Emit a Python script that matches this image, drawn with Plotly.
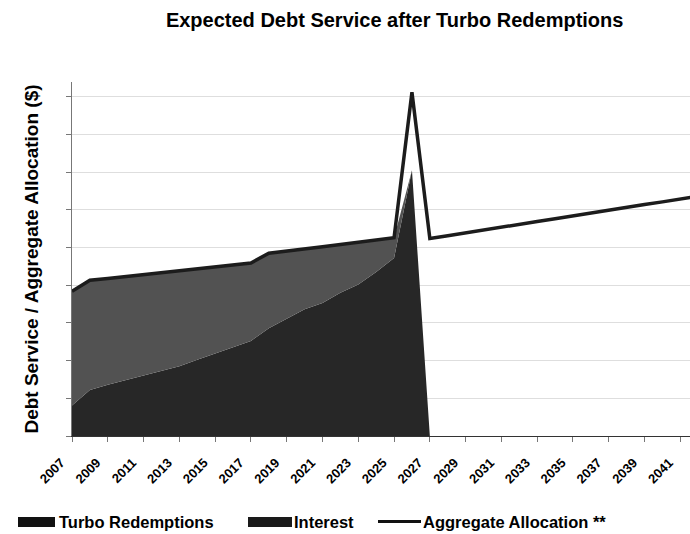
import plotly.graph_objects as go

years = list(range(2007, 2043))
tick_years = list(range(2007, 2042, 2))
tick_labels = [str(y) for y in tick_years]

turbo = [0.81, 1.22, 1.36, 1.48, 1.60, 1.71, 1.85, 2.02, 2.18, 2.35,
         2.52, 2.86, 3.12, 3.36, 3.53, 3.80, 4.02, 4.35, 4.72, 7.05,
         0.0]
interest = [3.03, 2.91, 2.82, 2.75, 2.68, 2.62, 2.53, 2.41, 2.30, 2.18,
            2.07, 1.99, 1.78, 1.60, 1.49, 1.28, 1.12, 0.85, 0.54, 0.0,
            0.0]
allocation = [3.84, 4.13, 4.18, 4.23, 4.28, 4.33, 4.38, 4.43, 4.48, 4.53,
              4.59, 4.85, 4.90, 4.96, 5.02, 5.08, 5.14, 5.20, 5.26, 9.12,
              5.24, 5.31, 5.39, 5.46, 5.54, 5.61, 5.69, 5.76, 5.84, 5.91,
              5.99, 6.06, 6.14, 6.21, 6.29, 6.36]

legend_names = ["Turbo Redemptions", "Interest", "Aggregate Allocation **"]

W, H = 690, 534
ML, MR, MT, MB = 72, 0, 82, 98
PW, PH = W - ML - MR, H - MT - MB


def px_x(px):
    return (px - ML) / PW


def px_y(py):
    return (H - MB - py) / PH


area_years = years[:len(turbo)]

fig = go.Figure()
fig.add_trace(go.Scatter(
    x=area_years, y=turbo, name=legend_names[0], mode="lines",
    stackgroup="one", line=dict(width=0, color="#272727"),
    fillcolor="#272727", showlegend=False))
fig.add_trace(go.Scatter(
    x=area_years, y=interest, name=legend_names[1], mode="lines",
    stackgroup="one", line=dict(width=0, color="#525252"),
    fillcolor="#525252", showlegend=False))
fig.add_trace(go.Scatter(
    x=years, y=allocation, name=legend_names[2], mode="lines",
    line=dict(width=3.5, color="#1c1c1c"), showlegend=False))

# legend drawn as shapes + text
shapes = [
    dict(type="rect", xref="paper", yref="paper",
         x0=px_x(18), x1=px_x(55), y0=px_y(527), y1=px_y(517),
         fillcolor="#111111", line=dict(width=0)),
    dict(type="rect", xref="paper", yref="paper",
         x0=px_x(248), x1=px_x(292), y0=px_y(527), y1=px_y(517),
         fillcolor="#1a1a1a", line=dict(width=0)),
    dict(type="line", xref="paper", yref="paper",
         x0=px_x(378), x1=px_x(421), y0=px_y(521.5), y1=px_y(521.5),
         line=dict(width=3, color="#111111")),
]
legend_text_x = [57, 292, 421]
annotations = [
    dict(text=name, xref="paper", yref="paper", x=px_x(lx), y=px_y(522),
         xanchor="left", yanchor="middle", showarrow=False,
         font=dict(size=16.5, weight="bold", color="black"))
    for name, lx in zip(legend_names, legend_text_x)
]

fig.update_layout(
    width=W, height=H,
    margin=dict(l=ML, r=MR, t=MT, b=MB),
    paper_bgcolor="white", plot_bgcolor="white",
    font=dict(family="Liberation Sans, Arial, sans-serif", color="black"),
    title=dict(text="<b>Expected Debt Service after Turbo Redemptions</b>",
               x=0.572, xref="container", xanchor="center",
               y=1 - 20 / 534, yref="container", yanchor="middle",
               font=dict(size=20, color="black")),
    showlegend=False,
    shapes=shapes,
    annotations=annotations,
    xaxis=dict(range=[2007, 2041.54], tickmode="array",
               tickvals=tick_years, ticktext=tick_labels,
               tickangle=-45, ticks="outside", ticklen=5,
               tickcolor="#777", showgrid=False, zeroline=False,
               showline=True, linecolor="#333", linewidth=1,
               ticklabelshift=-11, ticklabelstandoff=8,
               tickfont=dict(size=13, weight="bold", color="black")),
    yaxis=dict(range=[0, 9.39], tickmode="linear", tick0=0, dtick=1,
               ticks="outside", ticklen=5, tickcolor="#777",
               showticklabels=False, showgrid=True, gridcolor="#dedede",
               gridwidth=1, zeroline=False, showline=True,
               linecolor="#777", linewidth=1,
               title=dict(text="<b>Debt Service / Aggregate Allocation ($)</b>",
                          font=dict(size=19, color="black"), standoff=22)),
)

fig.write_html("out.html")
